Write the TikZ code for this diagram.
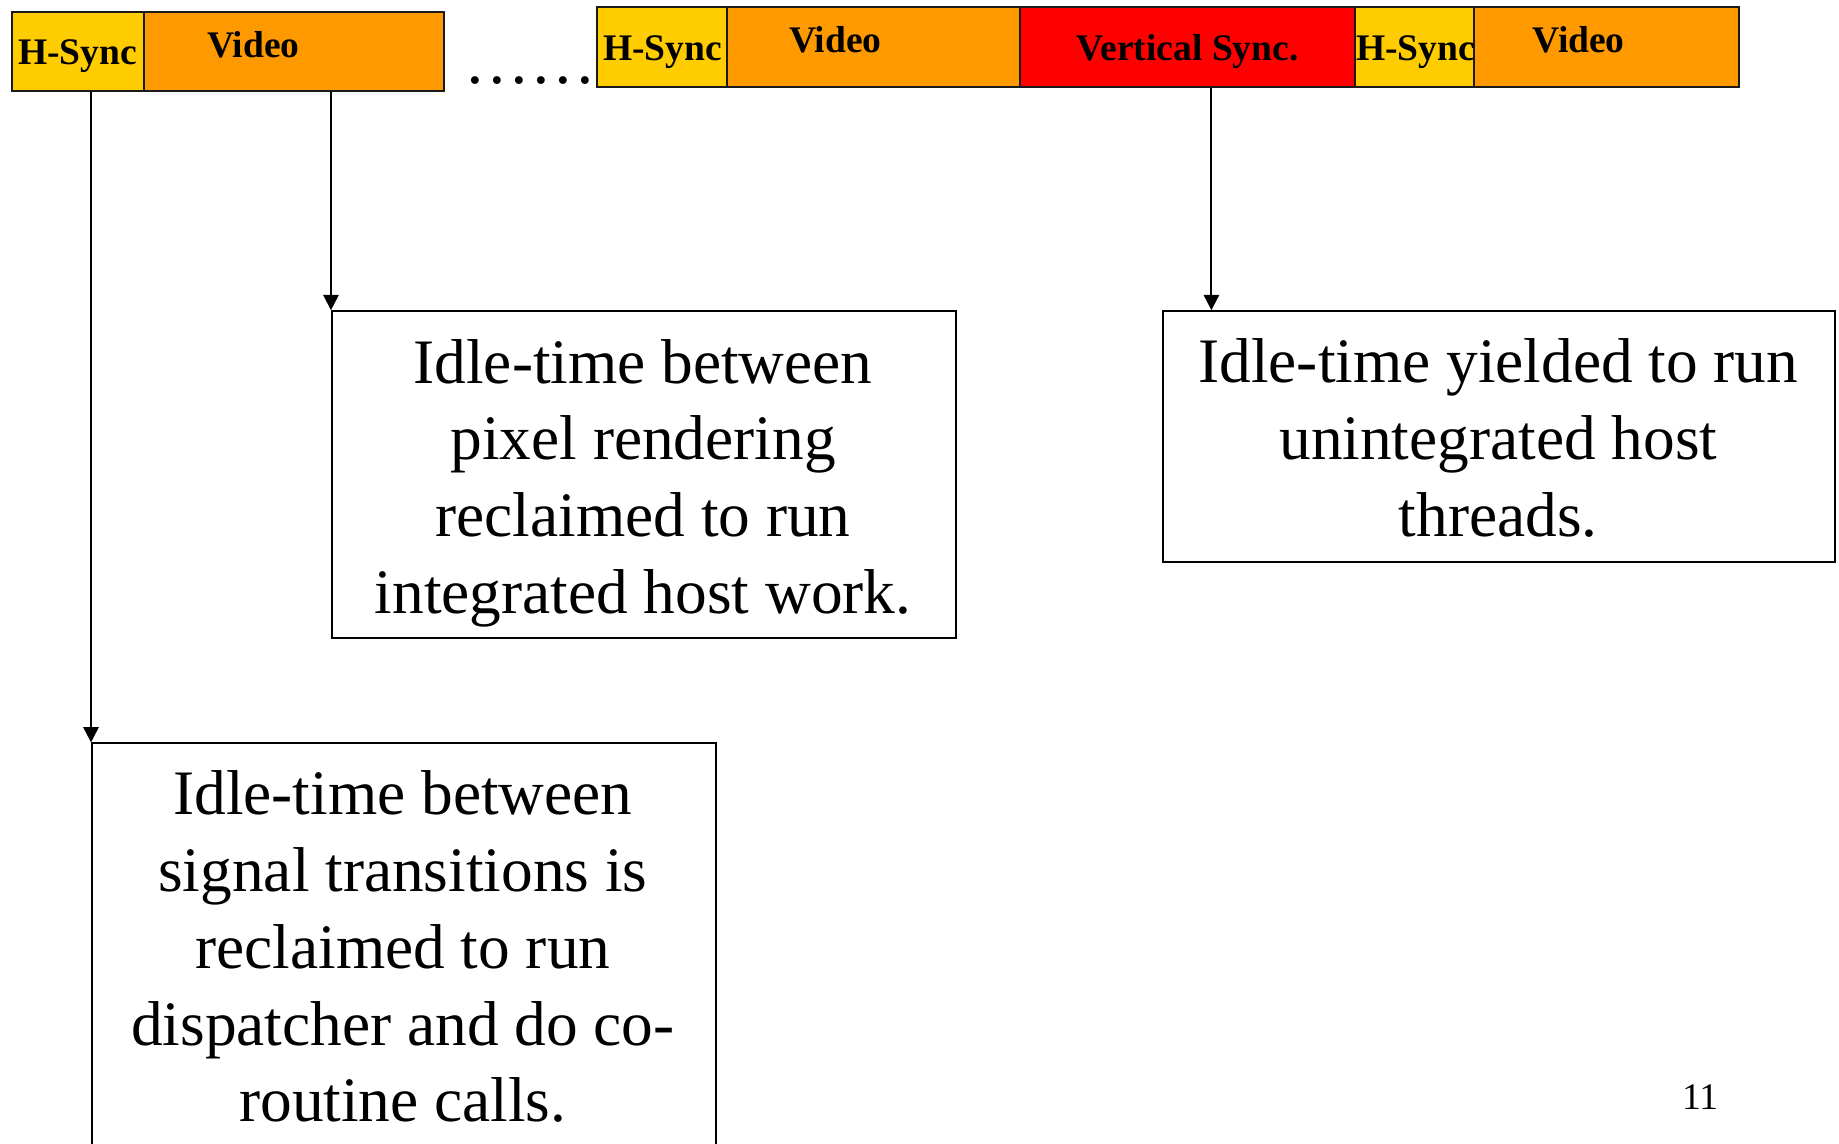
\documentclass[tikz,border=0pt]{standalone}
\usepackage{fontspec}
\setmainfont{Liberation Serif}
\usetikzlibrary{arrows.meta,calc}
\definecolor{hsync}{HTML}{FFCC00}
\definecolor{video}{HTML}{FF9900}
\definecolor{vsync}{HTML}{FF0000}
\definecolor{edge}{HTML}{1A1A1A}
\begin{document}
\begin{tikzpicture}[x=1pt,y=-1pt,
  seg/.style={draw=edge, line width=1.8pt, inner sep=0pt, anchor=north west},
  barlabel/.style={anchor=base west, inner sep=0pt, font=\fontsize{32}{36}\selectfont\bfseries},
  note/.style={draw=black, line width=1.6pt, inner sep=0pt, anchor=north west},
  notetext/.style={align=center, inner sep=0pt, font=\fontsize{54}{65.4}\selectfont},
  conn/.style={draw=black, line width=1.6pt, -{Triangle[length=13pt,width=13pt]}}]
\useasboundingbox (0,0) rectangle (1568,975);
\clip (0,0) rectangle (1568,975);

% first scan line
\node[seg, fill=hsync, minimum width=112.5pt, minimum height=67.3pt] (hs1) at (9.4,9.4) {};
\node[seg, fill=video, minimum width=255.8pt, minimum height=67.3pt] (vid1) at (121.9,9.4) {};
\node[barlabel] (hs1l) at (15.3,55.4) {H-Sync};
\node[barlabel] (vid1l) at (176.5,48.6) {Video};

% ellipsis between the scan lines
\node[anchor=base west, inner sep=0pt, font=\fontsize{56}{60}\selectfont] (dots) at (396,71) {……};

% last scan line, vertical sync and the next frame
\node[seg, fill=hsync, minimum width=110.8pt, minimum height=68.2pt] (hs2) at (508.2,5.1) {};
\node[seg, fill=video, minimum width=249.9pt, minimum height=68.2pt] (vid2) at (619.0,5.1) {};
\node[seg, fill=vsync, minimum width=285.6pt, minimum height=68.2pt] (vs) at (868.9,5.1) {};
\node[seg, fill=hsync, minimum width=101.5pt, minimum height=68.2pt] (hs3) at (1154.5,5.1) {};
\node[seg, fill=video, minimum width=225.9pt, minimum height=68.2pt] (vid3) at (1256.0,5.1) {};
\node[barlabel] (hs2l) at (514.1,51.2) {H-Sync};
\node[barlabel] (vid2l) at (672.7,44.4) {Video};
\node[barlabel] (vsl) at (918,51.2) {Vertical Sync.};
\node[barlabel] (hs3l) at (1156.2,51.2) {H-Sync};
\node[barlabel] (vid3l) at (1306.3,44.4) {Video};

% explanation boxes
\node[note, minimum width=532pt, minimum height=279pt] (box1) at (282.2,264.5) {};
\node[notetext] (t1) at (548.3,411.9) {Idle-time between\\pixel rendering\\reclaimed to run\\integrated host work.};

\node[note, minimum width=573pt, minimum height=214pt] (box2) at (991,264.5) {};
\node[notetext] (t2) at (1277.5,373.5) {Idle-time yielded to run\\unintegrated host\\threads.};

\node[note, minimum width=532pt, minimum height=360pt] (box3) at (77.6,633) {};
\node[notetext] (t3) at (343.5,807.3) {Idle-time between\\signal transitions is\\reclaimed to run\\dispatcher and do co-\\routine calls.};

% connectors
\draw[conn] (vid1.south -| box1.north west) -- (box1.north west);
\draw[conn] ([xshift=20.3pt]vs.south) -- ([xshift=20.3pt]vs.south |- box2.north);
\draw[conn] (hs1.south -| box3.north west) -- (box3.north west);

% page number
\node[anchor=base west, inner sep=0pt, font=\fontsize{32}{36}\selectfont] (pg) at (1434,945.6) {11};
\end{tikzpicture}
\end{document}
